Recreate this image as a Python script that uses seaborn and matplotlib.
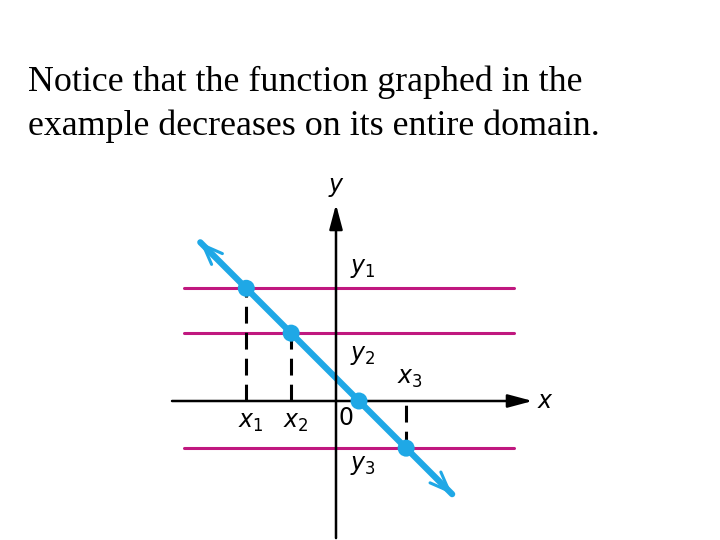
import matplotlib
matplotlib.use("Agg")
import matplotlib.pyplot as plt
import seaborn as sns
import pandas as pd

# diagram data (units: 1 unit ~ 23 px, origin at the axes crossing)
point_x = [-3.9, -1.95, 1.0, 3.05]
point_y = [4.9, 2.95, 0.0, -2.05]
level_y = [4.9, 2.95, -2.05]
line_x = [-5.9, 5.05]
line_y = [6.9, -4.05]
dashed_x = [-3.9, -1.95, 3.05]
dashed_top = [4.9, 2.95, -0.1]
dashed_bottom = [0.0, 0.0, -2.05]

heading = ["Notice that the function graphed in the",
           "example decreases on its entire domain."]

BLUE = "#1fa8e6"
MAGENTA = "#c0187f"

sns.set_style("white")
plt.rcParams["mathtext.fontset"] = "dejavusans"
plt.rcParams["text.color"] = "black"

fig = plt.figure(figsize=(7.2, 5.4), dpi=100)
ax = fig.add_axes([0, 0, 1, 1])
ax.set_xlim(-336 / 23, 384 / 23)
ax.set_ylim(-139 / 23, 401 / 23)
ax.axis("off")

# horizontal level lines
for yv in level_y:
    sns.lineplot(x=[-6.6, 7.74], y=[yv, yv], color=MAGENTA, lw=2.2, ax=ax)

# dashed drops
for xv, t, b in zip(dashed_x, dashed_top, dashed_bottom):
    ax.plot([xv, xv], [b, t], color="black", lw=2.2, ls=(0, (5.5, 3)))

# axes with arrows
ax.annotate("", xy=(8.55, 0), xytext=(-7.13, 0),
            arrowprops=dict(arrowstyle="-|>,head_length=1.5,head_width=0.4",
                            lw=1.8, color="black", shrinkA=0, shrinkB=0))
ax.annotate("", xy=(0, 8.55), xytext=(0, -5.96),
            arrowprops=dict(arrowstyle="-|>,head_length=1.5,head_width=0.4",
                            lw=1.8, color="black", shrinkA=0, shrinkB=0))

# decreasing line
df = pd.DataFrame({"x": line_x, "y": line_y})
sns.lineplot(data=df, x="x", y="y", color=BLUE, lw=4.5, ax=ax)
for i in (0, 1):
    j = 1 - i
    ax.annotate("", xy=(line_x[i], line_y[i]),
                xytext=(line_x[i] + (line_x[j] - line_x[i]) * 0.1,
                        line_y[i] + (line_y[j] - line_y[i]) * 0.1),
                arrowprops=dict(arrowstyle="->,head_length=1.4,head_width=0.55",
                                lw=2.2, color=BLUE, shrinkA=0, shrinkB=0))

pts = pd.DataFrame({"x": point_x, "y": point_y})
sns.scatterplot(data=pts, x="x", y="y", color=BLUE, s=150,
                edgecolor="none", ax=ax, zorder=5)

# labels
fs = 17
ax.text(0.0, 9.3, r"$\mathit{y}$", fontsize=fs, ha="center", va="center")
ax.text(9.1, 0.0, r"$\mathit{x}$", fontsize=fs, ha="center", va="center")
ax.text(0.6, 5.8, r"$\mathit{y}_{1}$", fontsize=fs, ha="left", va="center")
ax.text(0.6, 2.0, r"$\mathit{y}_{2}$", fontsize=fs, ha="left", va="center")
ax.text(0.6, -2.8, r"$\mathit{y}_{3}$", fontsize=fs, ha="left", va="center")
ax.text(3.2, 1.0, r"$\mathit{x}_{3}$", fontsize=fs, ha="center", va="center")
ax.text(-3.7, -0.9, r"$\mathit{x}_{1}$", fontsize=fs, ha="center", va="center")
ax.text(-1.75, -0.9, r"$\mathit{x}_{2}$", fontsize=fs, ha="center", va="center")
ax.text(0.45, -0.75, "0", fontsize=fs, ha="center", va="center")

for k, line in enumerate(heading):
    fig.text(28 / 720, 1 - (91 + 44 * k) / 540, line, fontsize=25.8,
             family="Liberation Serif", ha="left", va="baseline")

fig.savefig("out.png", dpi=100, facecolor="white")
